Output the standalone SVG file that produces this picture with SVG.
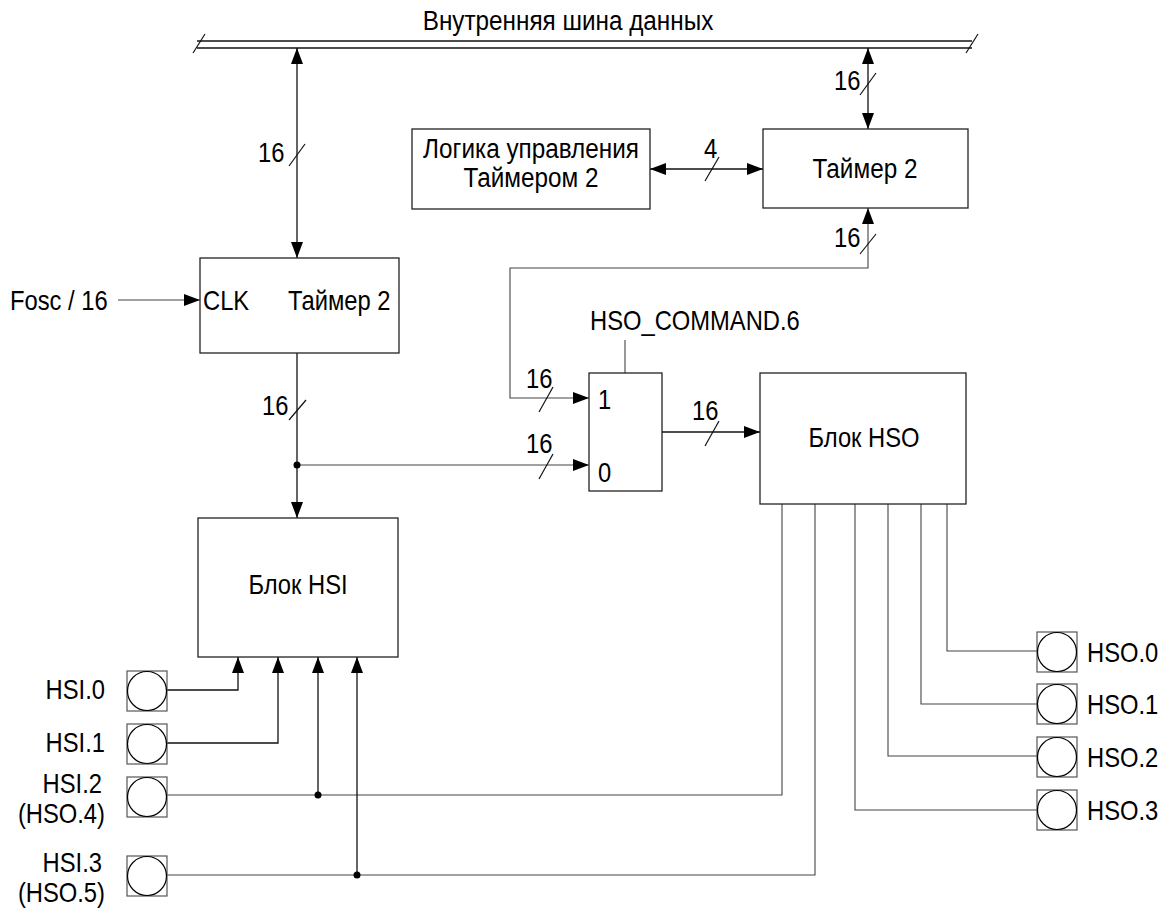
<svg xmlns="http://www.w3.org/2000/svg" width="1176" height="915" viewBox="0 0 1176 915">
<style>
.t{font-family:"Liberation Sans",Arial,sans-serif;font-size:27px;fill:#000}
.box{fill:#fff;stroke:#222;stroke-width:1.3}
.ln{fill:none;stroke:#111;stroke-width:1.3}
.thin{fill:none;stroke:#444;stroke-width:1.1}
.sl{stroke:#111;stroke-width:1.2}
.pin{fill:#fff;stroke:#555;stroke-width:1.2}
.pc{fill:none;stroke:#000;stroke-width:1.2}
</style>
<defs>
<marker id="ah" viewBox="0 0 16 12" refX="16" refY="6" markerWidth="16" markerHeight="12" orient="auto-start-reverse" markerUnits="userSpaceOnUse"><path d="M0,0 L16,6 L0,12 z" fill="#000"/></marker>
</defs>
<rect width="1176" height="915" fill="#fff"/>

<g id="bus">
<line x1="197" y1="41" x2="972" y2="41" class="ln"/>
<line x1="197" y1="48" x2="972" y2="48" class="ln"/>
<line x1="193" y1="53" x2="205" y2="34" class="sl"/>
<line x1="966" y1="53" x2="978" y2="34" class="sl"/>
<text class="t" text-anchor="middle" transform="translate(568 30) scale(0.9 1)">Внутренняя шина данных</text>
</g>

<g id="connectors">
<path d="M297,48 V258" class="ln" marker-start="url(#ah)" marker-end="url(#ah)"/>
<path d="M868,48 V129" class="ln" marker-start="url(#ah)" marker-end="url(#ah)"/>
<path d="M650,169 H763" class="ln" marker-start="url(#ah)" marker-end="url(#ah)"/>
<path d="M118,300 H200" class="thin" marker-end="url(#ah)"/>
<path d="M297,353 V518" class="ln" marker-end="url(#ah)"/>
<path d="M297,465 H589" class="thin" marker-end="url(#ah)"/>
<path d="M868,208 V268 H510 V398 H589" class="thin" marker-start="url(#ah)" marker-end="url(#ah)"/>
<path d="M662,432 H760" class="ln" marker-end="url(#ah)"/>
<path d="M625,340 V373" class="thin"/>
<path d="M167,690 H238 V657" class="ln" marker-end="url(#ah)"/>
<path d="M167,743 H278 V657" class="ln" marker-end="url(#ah)"/>
<path d="M167,795 H782 V504" class="thin"/>
<path d="M318,795 V657" class="ln" marker-end="url(#ah)"/>
<path d="M167,875 H815 V504" class="thin"/>
<path d="M357,875 V657" class="ln" marker-end="url(#ah)"/>
<path d="M947,504 V651 H1037" class="thin"/>
<path d="M921,504 V704 H1037" class="thin"/>
<path d="M888,504 V756 H1037" class="thin"/>
<path d="M855,504 V810 H1037" class="thin"/>
<circle cx="297" cy="465" r="3.5" fill="#000"/>
<circle cx="318" cy="795" r="3.5" fill="#000"/>
<circle cx="357" cy="875" r="3.5" fill="#000"/>
<line x1="289" y1="166" x2="305" y2="144" class="sl"/>
<text class="t" transform="translate(258 162) scale(0.88 1)">16</text>
<line x1="860" y1="95" x2="876" y2="73" class="sl"/>
<text class="t" transform="translate(834 90) scale(0.88 1)">16</text>
<line x1="705" y1="181" x2="719" y2="157" class="sl"/>
<text class="t" transform="translate(704 158) scale(0.88 1)">4</text>
<line x1="860" y1="254" x2="876" y2="234" class="sl"/>
<text class="t" transform="translate(834 247) scale(0.88 1)">16</text>
<line x1="289" y1="420" x2="306" y2="400" class="sl"/>
<text class="t" transform="translate(262 415) scale(0.88 1)">16</text>
<line x1="539" y1="412" x2="553" y2="387" class="sl"/>
<text class="t" transform="translate(526 388) scale(0.88 1)">16</text>
<line x1="539" y1="479" x2="553" y2="454" class="sl"/>
<text class="t" transform="translate(526 453) scale(0.88 1)">16</text>
<line x1="705" y1="446" x2="719" y2="421" class="sl"/>
<text class="t" transform="translate(692 420) scale(0.88 1)">16</text>
</g>

<g id="logic">
<rect x="412" y="129" width="238" height="80" class="box"/>
<text class="t" text-anchor="middle" transform="translate(531 158) scale(0.9 1)">Логика управления</text>
<text class="t" text-anchor="middle" transform="translate(531 187) scale(0.9 1)">Таймером 2</text>
</g>

<g id="timer2top">
<rect x="763" y="129" width="205" height="79" class="box"/>
<text class="t" text-anchor="middle" transform="translate(865 178) scale(0.9 1)">Таймер 2</text>
</g>

<g id="fosc">
<text class="t" transform="translate(10 310) scale(0.88 1)">Fosc / 16</text>
</g>

<g id="timer2clk">
<rect x="200" y="258" width="199" height="95" class="box"/>
<text class="t" transform="translate(203 310) scale(0.88 1)">CLK</text>
<text class="t" transform="translate(288 310) scale(0.88 1)">Таймер 2</text>
</g>

<g id="mux">
<rect x="589" y="373" width="73" height="118" class="box"/>
<text class="t" transform="translate(598 409) scale(0.88 1)">1</text>
<text class="t" transform="translate(598 482) scale(0.88 1)">0</text>
<text class="t" transform="translate(590 330) scale(0.88 1)">HSO_COMMAND.6</text>
</g>

<g id="hso">
<rect x="760" y="373" width="206" height="131" class="box"/>
<text class="t" text-anchor="middle" transform="translate(864 447) scale(0.88 1)">Блок HSO</text>
</g>

<g id="hsi">
<rect x="198" y="518" width="200" height="139" class="box"/>
<text class="t" text-anchor="middle" transform="translate(298 594) scale(0.88 1)">Блок HSI</text>
</g>

<g id="hsi-pins">
<rect x="127" y="671" width="40" height="40" class="pin"/><circle cx="147" cy="691" r="19.5" class="pc"/>
<rect x="127" y="724" width="40" height="40" class="pin"/><circle cx="147" cy="744" r="19.5" class="pc"/>
<rect x="127" y="777" width="40" height="40" class="pin"/><circle cx="147" cy="797" r="19.5" class="pc"/>
<rect x="127" y="856" width="40" height="40" class="pin"/><circle cx="147" cy="876" r="19.5" class="pc"/>
<text class="t" text-anchor="end" transform="translate(105 699) scale(0.88 1)">HSI.0</text>
<text class="t" text-anchor="end" transform="translate(105 752) scale(0.88 1)">HSI.1</text>
<text class="t" text-anchor="end" transform="translate(102 793) scale(0.88 1)">HSI.2</text>
<text class="t" text-anchor="end" transform="translate(105 823) scale(0.88 1)">(HSO.4)</text>
<text class="t" text-anchor="end" transform="translate(102 872) scale(0.88 1)">HSI.3</text>
<text class="t" text-anchor="end" transform="translate(105 902) scale(0.88 1)">(HSO.5)</text>
</g>

<g id="hso-pins">
<rect x="1037" y="632" width="40" height="40" class="pin"/><circle cx="1057" cy="652" r="19.5" class="pc"/>
<rect x="1037" y="684" width="40" height="40" class="pin"/><circle cx="1057" cy="704" r="19.5" class="pc"/>
<rect x="1037" y="737" width="40" height="40" class="pin"/><circle cx="1057" cy="757" r="19.5" class="pc"/>
<rect x="1037" y="790" width="40" height="40" class="pin"/><circle cx="1057" cy="810" r="19.5" class="pc"/>
<text class="t" transform="translate(1087 662) scale(0.88 1)">HSO.0</text>
<text class="t" transform="translate(1087 714) scale(0.88 1)">HSO.1</text>
<text class="t" transform="translate(1087 767) scale(0.88 1)">HSO.2</text>
<text class="t" transform="translate(1087 820) scale(0.88 1)">HSO.3</text>
</g>
</svg>
